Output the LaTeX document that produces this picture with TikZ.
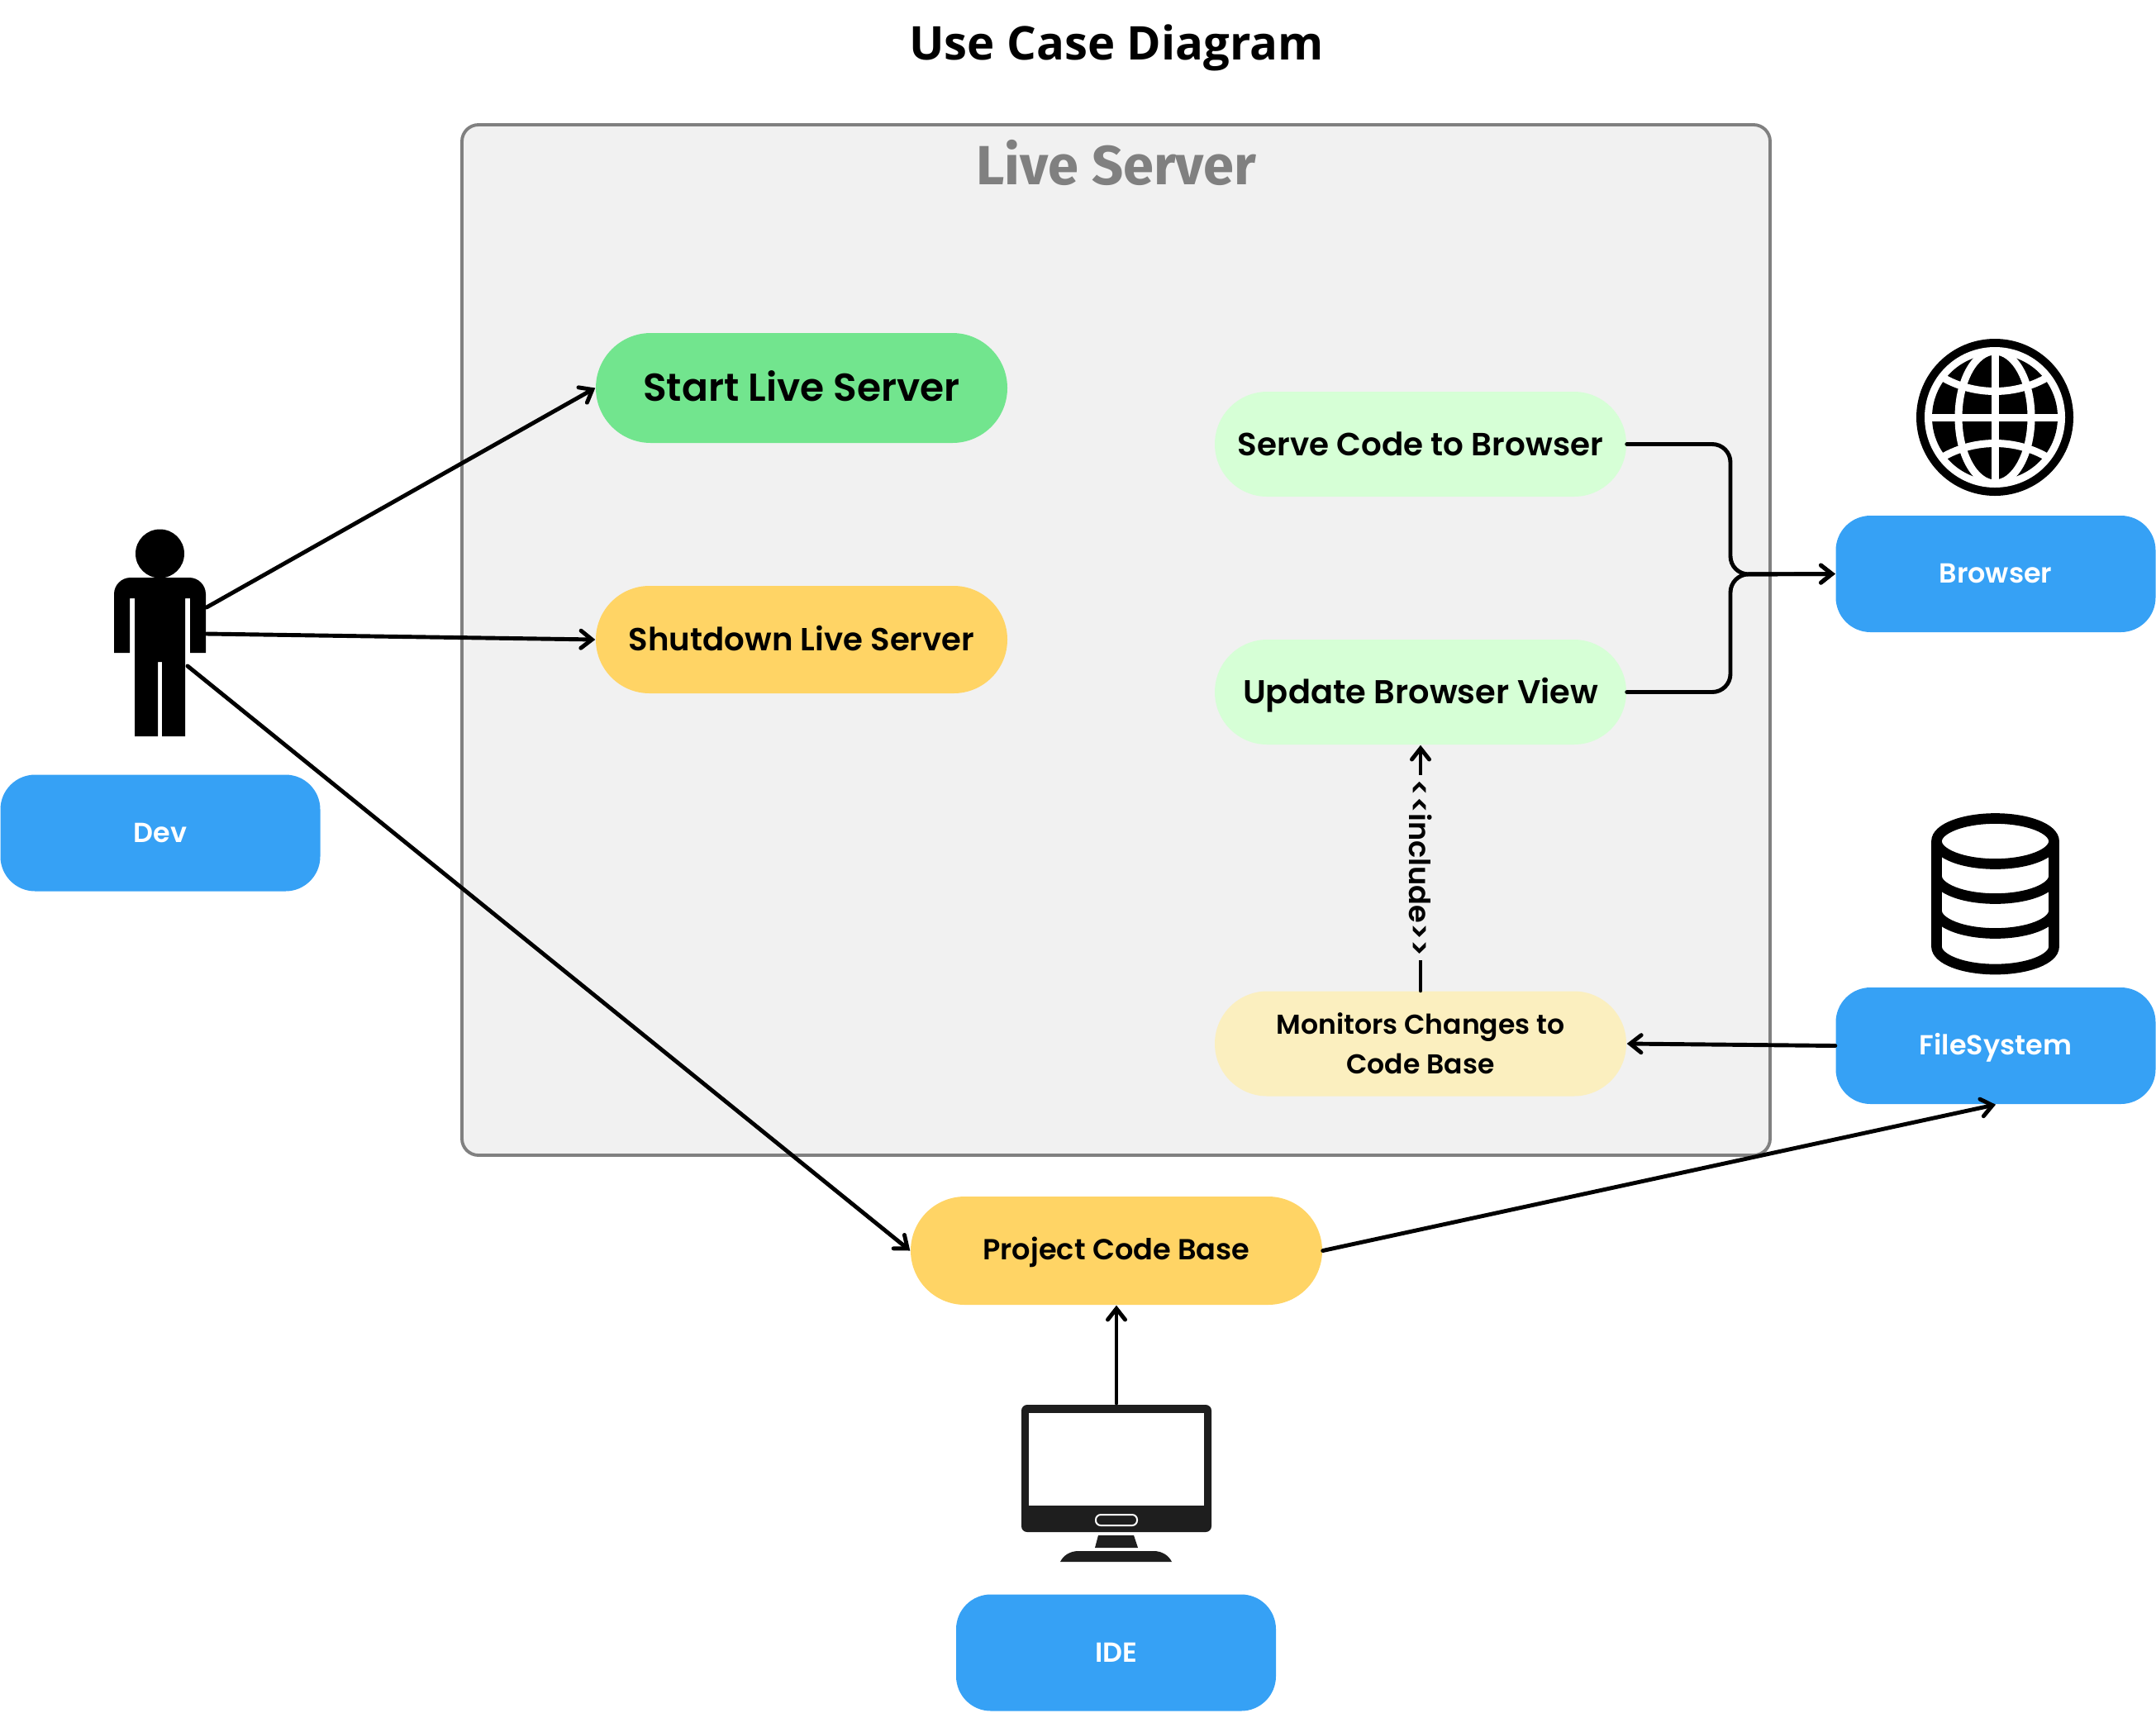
\documentclass[tikz,border=0pt]{standalone}
\usepackage{fontspec}
\setmainfont{Poppins}[BoldFont={Poppins SemiBold}]
\newfontfamily\titlefont{Open Sans}
\newfontfamily\boxfont{Fira Sans}
\usetikzlibrary{arrows.meta,shapes.misc}

\definecolor{boxgray}{HTML}{F1F1F1}
\definecolor{edgegray}{HTML}{808080}
\definecolor{actorblue}{HTML}{36A1F5}
\definecolor{startgreen}{HTML}{72E58E}
\definecolor{paleGreen}{HTML}{D6FFD6}
\definecolor{caseyellow}{HTML}{FFD465}
\definecolor{paleyellow}{HTML}{FBEFBF}
\definecolor{screenblack}{HTML}{1E1E1E}

\tikzset{
  usecase/.style={rounded rectangle,minimum width=4.98cm,minimum height=1.27cm,inner sep=0pt,align=center,text=black},
  oneline/.style={text height=.8em,text depth=.16em},
  caseline/.style={text height=.8em,text depth=.02em},
  actor/.style={rectangle,rounded corners=.42cm,minimum width=3.87cm,minimum height=1.41cm,inner sep=0pt,oneline,
    fill=actorblue,text=white,font=\fontsize{9.5}{11}\selectfont\bfseries},
  conn/.style={line width=1.4pt,line cap=round,-{Straight Barb[length=3.8pt,width=6pt,line cap=round]}}
}

\begin{document}
\begin{tikzpicture}
\useasboundingbox (0,0) rectangle (26.09,-20.72);

\node[font=\titlefont\fontsize{16}{18}\selectfont\bfseries] (title) at (13.51,-0.58) {Use Case Diagram};

% system box
\node[draw=edgegray,line width=1.1pt,fill=boxgray,rounded corners=.2cm,minimum width=15.83cm,minimum height=12.47cm] (server) at (13.505,-7.745) {};
\node[text=edgegray,font=\boxfont\fontsize{19}{22}\selectfont\bfseries] (servername) at (13.51,-1.97) {Live Server};

% use cases
\node[usecase,caseline,text height=.92em,text depth=0pt,fill=startgreen,minimum height=1.33cm,font=\fontsize{13.4}{15}\selectfont\bfseries] (start) at (9.70,-4.695) {Start Live Server};
\node[usecase,caseline,fill=caseyellow,minimum height=1.30cm,font=\fontsize{11}{13}\selectfont\bfseries] (shutdown) at (9.70,-7.74) {Shutdown Live Server};
\node[usecase,caseline,fill=paleGreen,font=\fontsize{11.05}{13}\selectfont\bfseries] (serve) at (17.19,-5.375) {Serve Code to Browser};
\node[usecase,caseline,fill=paleGreen,font=\fontsize{11.37}{13}\selectfont\bfseries] (update) at (17.19,-8.375) {Update Browser View};
\node[usecase,fill=paleyellow,font=\fontsize{9.4}{13.6}\selectfont\bfseries] (monitors) at (17.19,-12.63) {Monitors Changes to\\Code Base};
\node[usecase,oneline,fill=caseyellow,minimum height=1.31cm,font=\fontsize{10}{12}\selectfont\bfseries] (project) at (13.51,-15.135) {Project Code Base};

% actors
\node[actor] (dev) at (1.94,-10.08) {Dev};
\node[actor] (browser) at (24.15,-6.945) {Browser};
\node[actor] (filesystem) at (24.15,-12.655) {FileSystem};
\node[actor] (ide) at (13.505,-20.00) {IDE};

% person
\fill[black] (1.935,-6.70) circle (.295);
\fill[black] (1.38,-7.90) -- (1.38,-7.19) arc[start angle=180,end angle=90,radius=.2] -- (2.29,-6.99)
  arc[start angle=90,end angle=0,radius=.2] -- (2.49,-7.90) -- (2.30,-7.90) -- (2.30,-7.24) -- (2.24,-7.24)
  -- (2.24,-8.91) -- (1.96,-8.91) -- (1.96,-8.01) -- (1.91,-8.01) -- (1.91,-8.91) -- (1.63,-8.91)
  -- (1.63,-7.24) -- (1.57,-7.24) -- (1.57,-7.90) -- cycle;
\coordinate (devtop) at (2.50,-7.35);
\coordinate (devmid) at (2.50,-7.67);
\coordinate (devlow) at (2.27,-8.06);

% globe
\begin{scope}[shift={(24.14,-5.05)}]
  \fill[black] (0,0) circle (.95);
  \fill[white] (0,0) circle (.85);
  \fill[black] (0,0) circle (.76);
  \begin{scope}
    \clip (0,0) circle (.80);
    \draw[white,line width=.09cm] (0,-.9) -- (0,.9) (-.9,0) -- (.9,0);
    \draw[white,line width=.09cm] (0,0) ellipse (.44 and .80);
    \draw[white,line width=.09cm] (-.80,.60) .. controls (-.35,.22) and (.35,.22) .. (.80,.60);
    \draw[white,line width=.09cm] (-.80,-.60) .. controls (-.35,-.22) and (.35,-.22) .. (.80,-.60);
  \end{scope}
\end{scope}

% database
\begin{scope}[line width=.127cm,black]
  \draw (24.145,-10.18) ellipse (.71 and .275);
  \draw (23.435,-10.18) -- (23.435,-11.455) arc[start angle=180,end angle=360,x radius=.71,y radius=.275] -- (24.855,-10.18);
  \draw (23.435,-10.60) arc[start angle=180,end angle=360,x radius=.71,y radius=.275];
  \draw (23.435,-11.02) arc[start angle=180,end angle=360,x radius=.71,y radius=.275];
\end{scope}

% monitor
\fill[screenblack,rounded corners=.07cm] (12.36,-17.00) rectangle (14.66,-18.54);
\fill[white] (12.45,-17.10) rectangle (14.57,-18.22);
\draw[white,line width=.02cm,rounded corners=.06cm] (13.26,-18.33) rectangle (13.76,-18.46);
\fill[screenblack] (13.29,-18.58) -- (13.72,-18.58) -- (13.77,-18.73) -- (13.25,-18.73) -- cycle;
\fill[screenblack] (12.83,-18.90) .. controls (12.87,-18.82) and (12.95,-18.77) .. (13.05,-18.77)
  -- (13.96,-18.77) .. controls (14.06,-18.77) and (14.14,-18.82) .. (14.18,-18.90) -- cycle;
\coordinate (monitortop) at (13.51,-16.98);

% connectors
\coordinate (hub) at (20.94,-6.95);
\draw[conn] (devtop) -- (start.west);
\draw[conn] (devmid) -- (shutdown.west);
\draw[conn] (devlow) -- (project.west);
\draw[conn,rounded corners=.22cm] (serve.east) -| (hub) -- (browser.west);
\draw[conn,rounded corners=.22cm] (update.east) -| (hub) -- (browser.west);
\draw[conn] (monitors.north) -- node[fill=boxgray,rotate=-90,inner sep=1.5pt,font=\fontsize{10}{12}\selectfont\bfseries] (include) {{<}{<}include{>}{>}} (update.south);
\draw[conn] (filesystem.west) -- (monitors.east);
\draw[conn] (project.east) -- (filesystem.south);
\draw[conn] (monitortop) -- (project.south);
\end{tikzpicture}
\end{document}
